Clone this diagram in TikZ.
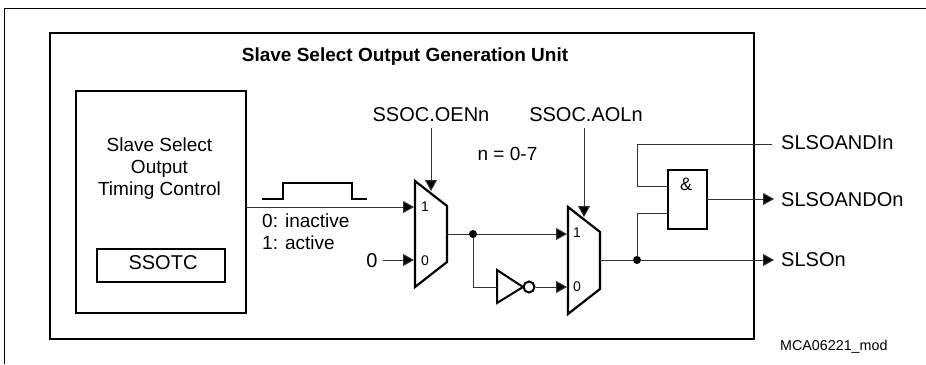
\documentclass[tikz,border=0pt]{standalone}
\usepackage{fontspec}
\setmainfont{Liberation Sans}
\usetikzlibrary{arrows.meta}
\newcommand{\fs}[1]{\fontsize{#1}{#1}\selectfont}
\tikzset{
  thin line/.style={line width=1pt,draw=black!80},
  sig/.style={thin line,-{Triangle[length=11pt,width=12pt,fill=black]}},
  thick box/.style={line width=2.2pt,draw=black,line join=miter},
  txt/.style={inner sep=0pt,font=\fs{20}},
  txts/.style={inner sep=0pt,font=\fs{19}},
  dot/.style={circle,fill=black,inner sep=0pt,minimum size=8pt},
  pinlab/.style={inner sep=0pt,font=\fs{14}},
}
\begin{document}
\begin{tikzpicture}[x=1pt,y=-1pt]
\useasboundingbox (0,0) rectangle (926,364);
\fill[white] (0,0) rectangle (926,364);
\draw[line width=1.2pt] (4.5,364) -- (4.5,8.5) -- (926,8.5);
\draw[thick box] (50,33) rectangle (754,339);
\node[inner sep=0pt,font=\fs{19}\bfseries] (title) at (405,57) {Slave Select Output Generation Unit};
\node[thick box,inner sep=0pt,outer sep=0pt,minimum width=170pt,minimum height=222pt] (tc) at (161,202) {};
\node[thick box,inner sep=0pt,outer sep=0pt,minimum width=128pt,minimum height=33pt] (ssotc) at (161,265.5) {};
\node[txt] (ssotclab) at (163,263) {SSOTC};
\node[txts,align=center] (tclab) at (159.5,169) {Slave Select\\[3pt]Output\\[3pt]Timing Control};
\coordinate (w0) at (262,199);
\draw[line width=2.2pt] (w0) -| (283,183) -| (352,199) -- (367,199);
\draw[thick box] (415,181) -- (447,206) -- (447,262) -- (415,287) -- cycle;
\draw[thick box] (568,207) -- (600,232) -- (600,289) -- (568,314) -- cycle;
\coordinate (m1a) at (414,207);
\coordinate (m1b) at (414,260);
\coordinate (m1o) at (447,234);
\coordinate (m2a) at (567,234);
\coordinate (m2b) at (567,287);
\coordinate (m2o) at (600,260);
\node[pinlab] (p11) at (425,207) {1};
\node[pinlab] (p10) at (425,261) {0};
\node[pinlab] (p21) at (577,233) {1};
\node[pinlab] (p20) at (577,287) {0};
\draw[sig] (tc.east |- m1a) -- (m1a);
\node[txts,anchor=west] (l0) at (262,221) {0: inactive};
\node[txts,anchor=west] (l1) at (262,243) {1: active};
\node[txt] (zero) at (372,261) {0};
\draw[sig] (383,260) -- (m1b);
\node[txt] (oen) at (431,115) {SSOC.OENn};
\node[txt] (aol) at (586,115) {SSOC.AOLn};
\node[txts] (neq) at (507.5,154) {n = 0-7};
\coordinate (c1) at (431,191);
\coordinate (c2) at (584,217);
\draw[sig] (431,128) -- (c1);
\draw[sig] (584,128) -- (c2);
\node[dot] (d1) at (473,234) {};
\draw[thin line] (m1o) -- (d1);
\draw[sig] (d1) -- (m2a);
\draw[line width=2pt,line join=miter] (497,270) -- (523,287) -- (497,303) -- cycle;
\node[circle,draw,line width=2pt,inner sep=0pt,minimum size=11pt] (bub) at (529,287) {};
\draw[thin line] (d1) |- (497,287);
\draw[sig] (bub) -- (m2b);
\node[dot] (d2) at (637,260) {};
\draw[thin line] (m2o) -- (d2);
\node[thick box,inner sep=0pt,outer sep=0pt,minimum width=39pt,minimum height=59pt] (and) at (687.5,199.5) {};
\node[inner sep=0pt,font=\fs{18}] (amp) at (686,184) {\&};
\node[txt,anchor=west] (a) at (781,143) {SLSOANDIn};
\node[txt,anchor=west] (b) at (781,200) {SLSOANDOn};
\node[txt,anchor=west] (c) at (781,260) {SLSOn};
\node[inner sep=0pt,anchor=west,font=\fs{14.3}] (id) at (780,347) {MCA06221\_mod};
\draw[thin line] (772,144) -| (637,186) -- (and.west |- 637,186);
\draw[thin line] (d2) |- (and.west |- 637,213);
\draw[sig] (and.east |- 637,199) -- (774,199);
\draw[sig] (d2) -- (774,260);
\end{tikzpicture}
\end{document}
